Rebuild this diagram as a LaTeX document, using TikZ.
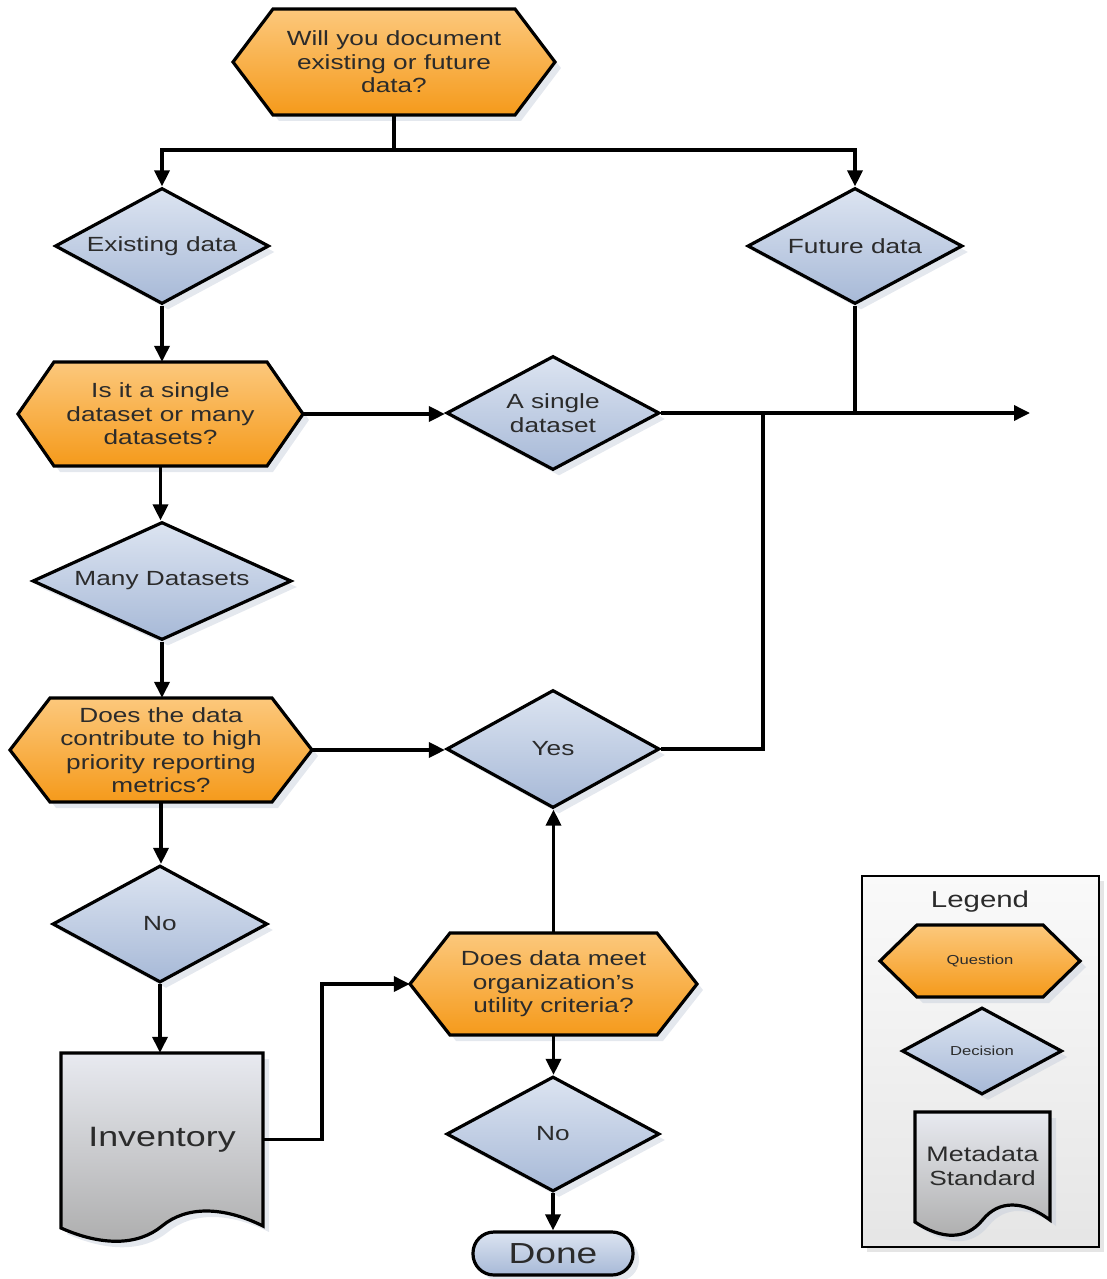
\documentclass[tikz,border=0pt]{standalone}
\usepackage{fontspec}
\setmainfont{Liberation Sans}[FakeStretch=1.28]
\usetikzlibrary{shapes.geometric,arrows.meta,shadows}
\definecolor{orTop}{HTML}{FCC87C}
\definecolor{orBot}{HTML}{F59A1B}
\definecolor{blTop}{HTML}{DCE4F1}
\definecolor{blBot}{HTML}{A7B9D7}
\definecolor{grTop}{HTML}{E8EAF0}
\definecolor{grBot}{HTML}{ADADAD}
\definecolor{txt}{HTML}{2B2B2B}
\definecolor{shad}{HTML}{C4CCDA}
\newcommand\mainfnt{\fontsize{20.5}{23.5}\selectfont}
\tikzset{
  shp/.style={draw=black, line width=3.2pt, line join=miter},
  shd/.style={drop shadow={shadow xshift=6pt, shadow yshift=-6pt, fill=shad, opacity=0.45}},
  qfill/.style={shp, shd, top color=orTop, bottom color=orBot},
  docfill/.style={shp, shd, top color=grTop, bottom color=grBot},
  dec/.style={diamond, shape aspect=2, shp, shd, top color=blTop, bottom color=blBot, inner sep=0pt,
    text=txt, font=\mainfnt, align=center},
  hexlabel/.style={rectangle, inner sep=0pt, align=center, text=txt, font=\mainfnt},
  line/.style={line width=3.5pt},
  arr/.style={line, -{Triangle[length=16pt,width=15pt]}},
}
% name, cx, cy, half width, half height, tip, text
\newcommand\HexQ[7]{%
  \path[qfill] ({#2-#4},#3) -- ({#2-#4+#6},{#3-#5}) -- ({#2+#4-#6},{#3-#5}) -- ({#2+#4},#3)
     -- ({#2+#4-#6},{#3+#5}) -- ({#2-#4+#6},{#3+#5}) -- cycle;
  \node[hexlabel, minimum width={2*#4}, minimum height={2*#5}] (#1) at (#2,#3) {#7};
}
% name, left, top, right, bottom, text
\newcommand\DocS[6]{%
  \path[docfill] (#2,#3) -- (#4,#3) -- (#4,#5)
    .. controls ({#4-0.2*(#4-#2)},{#5-20}) and ({#4-0.38*(#4-#2)},{#5-20}) .. ({0.5*(#2+#4)},#5)
    .. controls ({#2+0.38*(#4-#2)},{#5+20}) and ({#2+0.2*(#4-#2)},{#5+20}) .. (#2,{#5+2}) -- cycle;
  \node[hexlabel, minimum width={#4-#2}, minimum height={#5-#3}] (#1) at ({0.5*(#2+#4)},{0.5*(#3+#5)}) {#6};
}
\begin{document}
\begin{tikzpicture}[x=1pt,y=-1pt]
\useasboundingbox (0,0) rectangle (1106,1279);

% Legend box
\path[draw=black, line width=2.4pt, top color=gray!4, bottom color=gray!20,
  drop shadow={shadow xshift=5pt, shadow yshift=-5pt, fill=gray!40, opacity=0.5}]
  (862,876) rectangle (1099,1247);
\node[text=txt, font=\fontsize{23}{26}\selectfont] (legtitle) at (980,902) {Legend};
\HexQ{legq}{980}{961}{100}{36}{37}{\fontsize{13}{15}\selectfont Question}
\node[dec, minimum width=160, minimum height=87, font=\fontsize{13}{15}\selectfont] (legd) at (982,1051) {Decision};
\DocS{legdoc}{915}{1112}{1050}{1220}{\fontsize{21}{24}\selectfont Metadata\\Standard}

% Questions
\HexQ{q1}{394}{62}{161}{53}{40}{Will you document\\existing or future\\data?}
\HexQ{q2}{160.5}{414}{142.5}{52}{36}{Is it a single\\dataset or many\\datasets?}
\HexQ{q3}{161}{750}{151}{52}{40}{Does the data\\contribute to high\\priority reporting\\metrics?}
\HexQ{q4}{553.5}{984}{143.5}{51}{40}{Does data meet\\organization’s\\utility criteria?}

% Decisions
\node[dec, minimum width=214, minimum height=116] (exist) at (162,246) {Existing data};
\node[dec, minimum width=215, minimum height=116] (future) at (855,246) {Future data};
\node[dec, minimum width=213, minimum height=114] (single) at (553,413) {A single\\dataset};
\node[dec, minimum width=259, minimum height=118] (many) at (162,581) {Many Datasets};
\node[dec, minimum width=213, minimum height=118] (yes) at (553,749) {Yes};
\node[dec, minimum width=215, minimum height=117] (no1) at (160,924) {No};
\node[dec, minimum width=213, minimum height=115] (no2) at (553,1134) {No};

% Inventory document
\DocS{inv}{61}{1053}{263}{1226}{\fontsize{28}{32}\selectfont Inventory}

% Done terminator
\node[shp, shd, rounded corners=21pt, top color=blTop, bottom color=blBot,
  minimum width=160, minimum height=43, inner sep=0pt, text=txt,
  font=\fontsize{29}{32}\selectfont] (done) at (553,1253.5) {Done};

% Connectors
\coordinate (split) at (394,150);
\coordinate (out) at (1030,413);
\coordinate (join) at (763,413);
\draw[line] (q1.south) -- (split);
\draw[arr] (split) -| (exist.north);
\draw[arr] (split) -| (future.north);
\draw[arr] (exist.south) -- (exist.south |- q2.north);
\draw[arr] (q2.east) -- (q2.east -| single.west);
\draw[arr] (single.east) -- (out);
\draw[line] (future.south) -- (future.south |- out);
\draw[line] (yes.east) -| (join);
\draw[arr] (q2.south) -- (q2.south |- many.north);
\draw[arr] (many.south) -- (many.south |- q3.north);
\draw[arr] (q3.east) -- (q3.east -| yes.west);
\draw[arr] (q3.south) -- (q3.south |- no1.north);
\draw[arr] (no1.south) -- (no1.south |- inv.north);
\draw[arr] (inv.east) -- ++(59,0) |- (q4.west);
\draw[arr] (q4.north) -- (q4.north |- yes.south);
\draw[arr] (q4.south) -- (q4.south |- no2.north);
\draw[arr] (no2.south) -- (done.north);
\end{tikzpicture}
\end{document}
